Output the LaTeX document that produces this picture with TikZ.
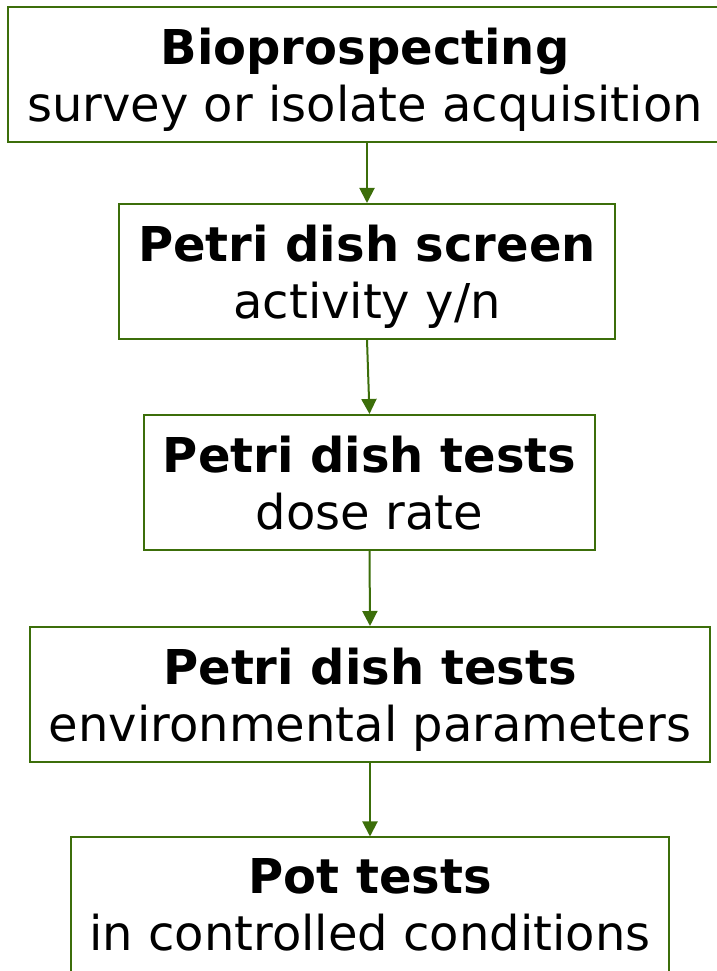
\documentclass[tikz,border=0pt]{standalone}
\usepackage{fontspec}
\setmainfont{DejaVu Sans}
\usetikzlibrary{arrows.meta}
\definecolor{ScreenGreen}{HTML}{3C6E0A}
\tikzset{
  screen stage/.style={draw=ScreenGreen, line width=2pt, align=center,
    font=\fontsize{48}{57}\selectfont, text=black, text depth=0pt,
    inner xsep=19pt, inner ysep=0pt, minimum height=135pt},
  screen flow/.style={draw=ScreenGreen, line width=2pt, -{Triangle[length=15pt,width=15pt]}},
}

\begin{document}
\begin{tikzpicture}[x=1pt,y=1pt]
  \useasboundingbox (0,0) rectangle (716,971);

  % stages, top to bottom
  \node[screen stage] (bio) at (365,896) {\textbf{Bioprospecting}\\survey or isolate acquisition};
  \node[screen stage] (screen) at (367,699.5) {\textbf{Petri dish screen}\\activity y/n};
  \node[screen stage] (dose) at (369.5,488.5) {\textbf{Petri dish tests}\\dose rate};
  \node[screen stage] (env) at (370,276.5) {\textbf{Petri dish tests}\\environmental parameters};
  \node[screen stage] (pot) at (370,66) {\textbf{Pot tests}\\in controlled conditions};

  % connectors
  \draw[screen flow] (bio.south -| screen.north) -- (screen.north);
  \draw[screen flow] (screen.south) -- (dose.north);
  \draw[screen flow] (dose.south) -- (env.north);
  \draw[screen flow] (env.south) -- (pot.north);
\end{tikzpicture}
\end{document}
